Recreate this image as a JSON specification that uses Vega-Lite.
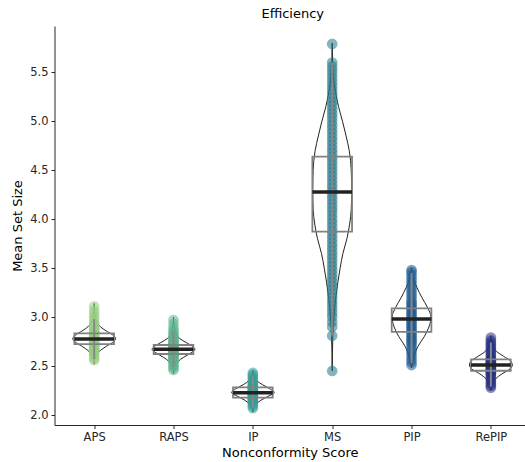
{
  "$schema": "https://vega.github.io/schema/vega-lite/v6.json",
  "width": 470.5,
  "height": 399,
  "autosize": {"type": "none"},
  "padding": {"left": 54.5, "top": 26, "right": 0, "bottom": 37},
  "background": "white",
  "config": {
    "view": {"stroke": null},
    "font": "DejaVu Sans",
    "axis": {
      "domainColor": "#262626", "tickColor": "#262626", "labelColor": "#262626", "titleColor": "#000000",
      "labelFont": "DejaVu Sans", "titleFont": "DejaVu Sans", "labelFontSize": 11.5, "titleFontSize": 13,
      "titleFontWeight": "normal", "tickSize": 3.5, "labelPadding": 3, "grid": false, "domainWidth": 1, "tickWidth": 1
    }
  },
  "title": {"text": "Efficiency", "fontSize": 13, "fontWeight": "normal", "color": "#000000", "offset": 5, "dx": 3, "anchor": "middle", "font": "DejaVu Sans"},
  "datasets": {
    "pts": [
      {"cat": "APS", "v": [2.56, 2.58, 2.60, 2.62, 2.64, 2.65, 2.66, 2.67, 2.68, 2.69, 2.70, 2.71, 2.72, 2.73, 2.74, 2.75, 2.76, 2.77, 2.78, 2.79, 2.80, 2.81, 2.82, 2.83, 2.84, 2.85, 2.86, 2.87, 2.88, 2.89, 2.91, 2.93, 2.95, 2.98, 3.01, 3.04, 3.07, 3.11]},
      {"cat": "RAPS", "v": [2.46, 2.48, 2.50, 2.52, 2.54, 2.56, 2.57, 2.58, 2.59, 2.60, 2.61, 2.62, 2.63, 2.64, 2.65, 2.66, 2.67, 2.68, 2.69, 2.70, 2.71, 2.72, 2.73, 2.74, 2.75, 2.76, 2.78, 2.80, 2.82, 2.84, 2.86, 2.89, 2.93, 2.97]},
      {"cat": "IP", "v": [2.07, 2.09, 2.11, 2.13, 2.14, 2.15, 2.16, 2.17, 2.18, 2.19, 2.20, 2.21, 2.22, 2.23, 2.24, 2.25, 2.26, 2.27, 2.28, 2.29, 2.30, 2.31, 2.33, 2.35, 2.37, 2.39, 2.41, 2.43]},
      {"cat": "MS", "v": [2.45, 2.81, 2.90, 2.95, 3.00, 3.04, 3.08, 3.12, 3.16, 3.20, 3.24, 3.28, 3.32, 3.36, 3.40, 3.44, 3.48, 3.52, 3.56, 3.60, 3.64, 3.68, 3.72, 3.76, 3.80, 3.84, 3.88, 3.92, 3.96, 4.00, 4.04, 4.08, 4.12, 4.16, 4.20, 4.24, 4.28, 4.32, 4.36, 4.40, 4.44, 4.48, 4.52, 4.56, 4.60, 4.64, 4.68, 4.72, 4.76, 4.80, 4.84, 4.88, 4.92, 4.96, 5.00, 5.04, 5.08, 5.12, 5.16, 5.20, 5.24, 5.28, 5.32, 5.36, 5.40, 5.44, 5.48, 5.52, 5.56, 5.60, 5.79]},
      {"cat": "PIP", "v": [2.51, 2.54, 2.57, 2.60, 2.63, 2.66, 2.69, 2.72, 2.74, 2.76, 2.78, 2.80, 2.82, 2.84, 2.86, 2.88, 2.90, 2.92, 2.94, 2.96, 2.98, 3.00, 3.02, 3.04, 3.06, 3.08, 3.10, 3.12, 3.14, 3.16, 3.19, 3.22, 3.25, 3.28, 3.31, 3.34, 3.37, 3.40, 3.43, 3.46, 3.48]},
      {"cat": "RePIP", "v": [2.28, 2.30, 2.32, 2.34, 2.36, 2.38, 2.40, 2.42, 2.43, 2.44, 2.45, 2.46, 2.47, 2.48, 2.49, 2.50, 2.51, 2.52, 2.53, 2.54, 2.55, 2.56, 2.57, 2.58, 2.60, 2.62, 2.64, 2.66, 2.68, 2.70, 2.72, 2.74, 2.76, 2.79]}
    ],
    "vio": [
      {"cat": "APS", "y": [2.52, 2.58, 2.62, 2.66, 2.70, 2.74, 2.78, 2.82, 2.86, 2.90, 2.95, 3.00, 3.06, 3.14], "w": [0, 0.01, 0.035, 0.08, 0.15, 0.23, 0.27, 0.23, 0.15, 0.08, 0.035, 0.015, 0.005, 0]},
      {"cat": "RAPS", "y": [2.42, 2.48, 2.53, 2.57, 2.61, 2.64, 2.67, 2.70, 2.74, 2.78, 2.83, 2.90, 3.00], "w": [0, 0.01, 0.04, 0.09, 0.17, 0.23, 0.27, 0.24, 0.16, 0.08, 0.03, 0.01, 0]},
      {"cat": "IP", "y": [2.03, 2.07, 2.11, 2.15, 2.19, 2.23, 2.27, 2.31, 2.35, 2.40, 2.46], "w": [0, 0.01, 0.04, 0.10, 0.19, 0.27, 0.21, 0.12, 0.05, 0.015, 0]},
      {"cat": "MS", "y": [2.45, 2.80, 3.00, 3.20, 3.35, 3.50, 3.65, 3.80, 3.95, 4.10, 4.30, 4.50, 4.70, 4.85, 5.00, 5.15, 5.30, 5.45, 5.60, 5.80], "w": [0, 0.008, 0.02, 0.045, 0.07, 0.10, 0.135, 0.185, 0.22, 0.24, 0.245, 0.24, 0.215, 0.175, 0.13, 0.08, 0.042, 0.016, 0.004, 0]},
      {"cat": "PIP", "y": [2.48, 2.60, 2.70, 2.80, 2.90, 3.00, 3.10, 3.20, 3.30, 3.40, 3.50], "w": [0, 0.03, 0.08, 0.16, 0.22, 0.245, 0.20, 0.13, 0.07, 0.02, 0]},
      {"cat": "RePIP", "y": [2.25, 2.30, 2.37, 2.42, 2.47, 2.51, 2.55, 2.60, 2.65, 2.72, 2.81], "w": [0, 0.015, 0.06, 0.14, 0.24, 0.27, 0.25, 0.16, 0.07, 0.02, 0]}
    ],
    "box": [
      {"cat": "APS", "wlo": 2.57, "q1": 2.725, "med": 2.776, "q3": 2.834, "whi": 2.98},
      {"cat": "RAPS", "wlo": 2.49, "q1": 2.623, "med": 2.671, "q3": 2.715, "whi": 2.86},
      {"cat": "IP", "wlo": 2.07, "q1": 2.177, "med": 2.228, "q3": 2.283, "whi": 2.40},
      {"cat": "MS", "wlo": 2.81, "q1": 3.872, "med": 4.278, "q3": 4.638, "whi": 5.60},
      {"cat": "PIP", "wlo": 2.53, "q1": 2.85, "med": 2.98, "q3": 3.09, "whi": 3.45},
      {"cat": "RePIP", "wlo": 2.29, "q1": 2.452, "med": 2.51, "q3": 2.569, "whi": 2.74}
    ]
  },
  "layer": [
    {
      "data": {"name": "vio"},
      "transform": [
        {"flatten": ["y", "w"]},
        {"calculate": "indexof(['APS','RAPS','IP','MS','PIP','RePIP'], datum.cat)", "as": "idx"},
        {"calculate": "datum.idx - datum.w", "as": "lo"},
        {"calculate": "datum.idx + datum.w", "as": "hi"}
      ],
      "mark": {"type": "area", "orient": "horizontal", "fillOpacity": 0, "stroke": "#222222", "strokeWidth": 1, "interpolate": "monotone"},
      "encoding": {
        "y": {"field": "y", "type": "quantitative", "title": "Mean Set Size",
              "scale": {"domain": [1.898, 5.973], "nice": false, "zero": false},
              "axis": {"values": [2.0, 2.5, 3.0, 3.5, 4.0, 4.5, 5.0, 5.5], "format": ".1f", "titlePadding": 5}},
        "x": {"field": "lo", "type": "quantitative", "title": "Nonconformity Score",
              "scale": {"domain": [-0.5, 5.43], "nice": false, "zero": false},
              "axis": {"values": [0, 1, 2, 3, 4, 5], "labelExpr": "['APS','RAPS','IP','MS','PIP','RePIP'][datum.value]", "titlePadding": 3}},
        "x2": {"field": "hi"},
        "detail": {"field": "cat"}
      }
    },
    {
      "data": {"name": "pts"},
      "transform": [
        {"flatten": ["v"]},
        {"calculate": "indexof(['APS','RAPS','IP','MS','PIP','RePIP'], datum.cat)", "as": "idx"}
      ],
      "mark": {"type": "circle", "size": 115, "opacity": 0.55},
      "encoding": {
        "x": {"field": "idx", "type": "quantitative", "title": "Nonconformity Score"},
        "y": {"field": "v", "type": "quantitative", "title": "Mean Set Size"},
        "color": {"field": "cat", "type": "nominal", "legend": null,
                  "scale": {"domain": ["APS", "RAPS", "IP", "MS", "PIP", "RePIP"], "range": ["#98cd83", "#5bb28d", "#339c97", "#227689", "#1d5a8f", "#283184"]}}
      }
    },
    {
      "data": {"name": "box"},
      "transform": [
        {"calculate": "indexof(['APS','RAPS','IP','MS','PIP','RePIP'], datum.cat)", "as": "idx"}
      ],
      "mark": {"type": "rule", "color": "#888888", "strokeWidth": 2},
      "encoding": {
        "x": {"field": "idx", "type": "quantitative", "title": "Nonconformity Score"},
        "y": {"field": "wlo", "type": "quantitative", "title": "Mean Set Size"},
        "y2": {"field": "whi"}
      }
    },
    {
      "data": {"name": "box"},
      "transform": [
        {"calculate": "indexof(['APS','RAPS','IP','MS','PIP','RePIP'], datum.cat)", "as": "idx"},
        {"calculate": "datum.idx - 0.25", "as": "bl"},
        {"calculate": "datum.idx + 0.25", "as": "br"}
      ],
      "mark": {"type": "rect", "fillOpacity": 0, "stroke": "#808080", "strokeWidth": 1.8},
      "encoding": {
        "x": {"field": "bl", "type": "quantitative", "title": "Nonconformity Score"},
        "x2": {"field": "br"},
        "y": {"field": "q1", "type": "quantitative", "title": "Mean Set Size"},
        "y2": {"field": "q3"}
      }
    },
    {
      "data": {"name": "box"},
      "transform": [
        {"calculate": "indexof(['APS','RAPS','IP','MS','PIP','RePIP'], datum.cat)", "as": "idx"},
        {"calculate": "datum.idx - 0.25", "as": "bl"},
        {"calculate": "datum.idx + 0.25", "as": "br"}
      ],
      "mark": {"type": "rule", "color": "#222222", "strokeWidth": 3.5},
      "encoding": {
        "x": {"field": "bl", "type": "quantitative", "title": "Nonconformity Score"},
        "x2": {"field": "br"},
        "y": {"field": "med", "type": "quantitative", "title": "Mean Set Size"}
      }
    },
    {
      "mark": {"type": "rule", "color": "#262626", "strokeWidth": 1},
      "encoding": {
        "y": {"datum": 5.973, "type": "quantitative"}
      }
    }
  ]
}
